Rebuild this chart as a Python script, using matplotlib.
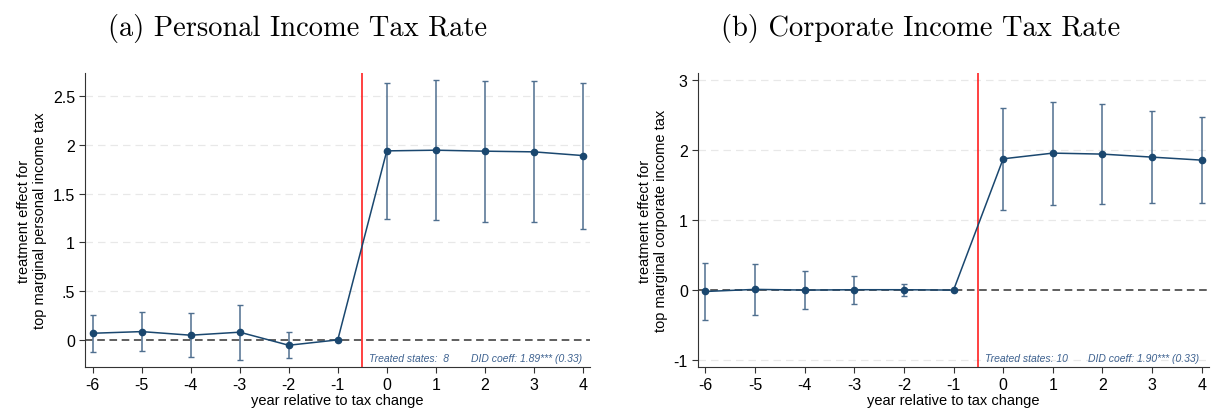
import matplotlib
matplotlib.use("Agg")
import matplotlib.pyplot as plt

plt.rcParams['font.family'] = ['Liberation Sans', 'DejaVu Sans']

years = [-6, -5, -4, -3, -2, -1, 0, 1, 2, 3, 4]

pit_coef = [0.068, 0.085, 0.048, 0.079, -0.055, 0.0, 1.939, 1.946, 1.936, 1.929, 1.891]
pit_hi = [0.253, 0.287, 0.280, 0.359, 0.079, 0.0, 2.637, 2.664, 2.654, 2.654, 2.640]
pit_lo = [-0.127, -0.116, -0.178, -0.205, -0.185, 0.0, 1.241, 1.231, 1.214, 1.207, 1.142]

cit_coef = [-0.020, 0.010, 0.0, 0.005, 0.005, 0.0, 1.873, 1.954, 1.940, 1.897, 1.854]
cit_hi = [0.383, 0.373, 0.268, 0.206, 0.090, 0.0, 2.600, 2.690, 2.657, 2.551, 2.470]
cit_lo = [-0.420, -0.350, -0.277, -0.196, -0.086, 0.0, 1.142, 1.214, 1.228, 1.247, 1.239]

pit_yticks = [0, 0.5, 1, 1.5, 2, 2.5]
pit_ylabels = ['0', '.5', '1', '1.5', '2', '2.5']
cit_yticks = [-1, 0, 1, 2, 3]
cit_ylabels = ['-1', '0', '1', '2', '3']

navy = '#1a476f'
ci_col = '#4f6f8f'

fig = plt.figure(figsize=(12.11, 4.10), dpi=100)
ax1 = fig.add_axes([0.070, 0.102, 0.417, 0.718])
ax2 = fig.add_axes([0.576, 0.102, 0.422, 0.718])

panels = [
    (ax1, pit_coef, pit_lo, pit_hi, pit_yticks, pit_ylabels, (-0.28, 2.74),
     'treatment effect for\ntop marginal personal income tax', 'Treated states:  8',
     'DID coeff: 1.89*** (0.33)'),
    (ax2, cit_coef, cit_lo, cit_hi, cit_yticks, cit_ylabels, (-1.1, 3.1),
     'treatment effect for\ntop marginal corporate income tax', 'Treated states: 10',
     'DID coeff: 1.90*** (0.33)'),
]

for ax, coef, lo, hi, yt, yl, ylim, ylab, t1, t2 in panels:
    for y in yt:
        if y != 0:
            ax.axhline(y, color='#e8e8e8', lw=0.9, ls=(0, (6, 4)), zorder=0)
    ax.axhline(0, color='#333333', lw=1.1, ls=(0, (5, 3)), zorder=1)
    ax.axvline(-0.5, color='#ff2020', lw=1.2, zorder=2)
    yerr = [[c - l for c, l in zip(coef, lo)], [h - c for c, h in zip(coef, hi)]]
    ax.errorbar(years, coef, yerr=yerr, fmt='none', ecolor=ci_col, elinewidth=1.1,
                capsize=2.0, capthick=1.0, zorder=3)
    ax.plot(years, coef, color=navy, lw=1.1, marker='o', ms=4.5, zorder=4)
    ax.set_xlim(-6.16, 4.14)
    ax.set_ylim(*ylim)
    ax.set_xticks(years)
    ax.set_xticklabels([str(y) for y in years], fontsize=11.5)
    ax.set_yticks(yt)
    ax.set_yticklabels(yl, fontsize=11.5)
    ax.spines['top'].set_visible(False)
    ax.spines['right'].set_visible(False)
    ax.spines['left'].set_color('#333333')
    ax.spines['bottom'].set_color('#333333')
    ax.tick_params(length=4, color='#333333', pad=3)
    ax.set_ylabel(ylab, fontsize=10.5, labelpad=4)
    ax.set_xlabel('year relative to tax change', fontsize=10.5, labelpad=1)
    y0, y1 = ylim
    yt_txt = y0 + 0.03 * (y1 - y0)
    ax.text(-0.37, yt_txt, t1, fontsize=7.5, style='italic', color='#3e6290', va='center')
    ax.text(1.71, yt_txt, t2, fontsize=7.5, style='italic', color='#3e6290', va='center')

fig.text(0.246, 0.93, '(a) Personal Income Tax Rate', family='cmr10', fontsize=20.5,
         ha='center', va='center')
fig.text(0.760, 0.93, '(b) Corporate Income Tax Rate', family='cmr10', fontsize=20.5,
         ha='center', va='center')

fig.savefig('out.png', dpi=100)
